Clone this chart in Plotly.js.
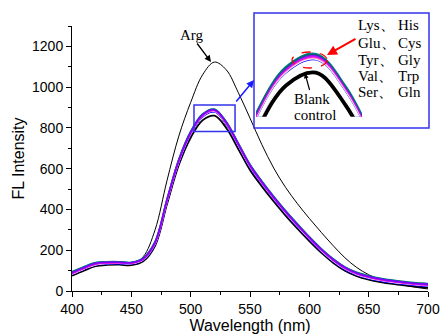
<!DOCTYPE html>
<html>
<head>
<meta charset="utf-8">
<script src="https://cdn.plot.ly/plotly-3.0.1.min.js"></script>
<style>html,body{margin:0;padding:0;background:#fff}#chart{width:442px;height:334px}</style>
</head>
<body>
<div id="chart"></div>
<script>
// Wavelength (nm)
var wavelength = [400,410,420,430,440,450,460,470,480,490,500,510,520,530,540,550,560,570,580,590,600,610,620,630,640,650,660,670,680,690,700];
// FL intensity per analyte
var lys   = [95,120,140,144,144,141,163,244,452,648,784,869,893,832,728,622,540,465,395,330,267,209,159,119,92,75,63,54,47,41,37];
var his   = [93,118,139,143,143,140,161,242,450,646,782,867,891,830,726,620,538,463,393,328,265,207,157,117,90,73,61,52,45,39,35];
var glu   = [90,115,136,141,141,139,159,239,446,641,778,864,889,827,723,617,535,460,390,325,263,205,155,115,88,71,59,50,43,37,33];
var cys   = [89,114,135,140,140,138,158,238,445,640,777,863,888,826,722,616,534,459,389,324,262,204,154,114,87,70,58,49,42,36,32];
var tyr   = [87,112,133,138,139,137,157,236,443,638,775,861,886,824,720,614,532,457,387,322,260,202,152,112,85,68,56,47,40,34,30];
var gly   = [86,111,132,137,138,136,156,235,442,637,774,860,885,823,719,613,531,456,386,321,259,201,151,111,84,67,55,46,39,33,29];
var val   = [84,109,130,136,137,135,155,233,440,635,772,859,884,822,718,612,530,455,385,320,258,200,150,110,83,66,54,45,38,32,28];
var trp   = [83,108,129,135,136,134,154,232,438,633,770,857,882,820,716,610,528,453,383,318,256,198,148,108,81,64,52,43,36,30,26];
var gln   = [82,107,128,134,135,133,153,230,436,631,768,855,880,818,714,608,526,451,381,316,254,196,146,106,79,62,50,41,34,28,24];
var ser   = [81,106,127,133,134,132,152,229,435,630,767,854,879,817,713,607,525,450,380,315,253,195,145,105,78,61,49,40,33,27,23];
var blank = [75,100,122,128,129,127,146,222,425,618,752,837,860,800,698,594,513,439,370,306,245,188,139,100,73,56,44,35,28,22,17];
var arg   = [80,105,126,132,133,131,168,300,540,760,925,1060,1123,1085,975,848,718,603,508,428,356,288,223,163,115,80,56,40,28,18,10];

// inset stacking order (top curve first)
var insetNames  = ['Lys','His','Glu','Cys','Tyr','Gly','Val','Trp','Gln','Ser','Blank control'];
var insetData   = [lys, his, glu, cys, tyr, gly, val, trp, gln, ser, blank];
var insetColors = ['#008080','#006b6b','#7f00ff','#8a2be2','#ff00ff','#e000e0','#ff8cc6','#ffffff','#0000ff','#ffffff','#000000'];
// main plot drawing order
var mainNames  = ['Blank control','Lys','His','Ser','Gln','Trp','Val','Gly','Tyr','Cys','Glu'];
var mainData   = [blank, lys, his, ser, gln, trp, val, gly, tyr, cys, glu];
var mainColors = ['#000000','#008080','#006b6b','#0000ff','#0000ff','#ffffff','#ff8cc6','#e000e0','#ff00ff','#8a2be2','#7f00ff'];

var traces = [];
traces.push({x: wavelength, y: arg, type:'scatter', mode:'lines', name:'Arg',
  line:{color:'#000000', width:1, shape:'spline'}, xaxis:'x', yaxis:'y', showlegend:false});
for (var i = 0; i < mainData.length; i++) {
  traces.push({x: wavelength, y: mainData[i], type:'scatter', mode:'lines', name: mainNames[i],
    line:{color: mainColors[i], width: i === 0 ? 1.8 : 1.4, shape:'spline'}, xaxis:'x', yaxis:'y', showlegend:false});
}
for (var j = 0; j < insetData.length; j++) {
  traces.push({x: wavelength, y: insetData[j], type:'scatter', mode:'lines', name: insetNames[j],
    line:{color: insetColors[j], width: 3.8, shape:'spline'}, xaxis:'x2', yaxis:'y2', showlegend:false});
}

function px(xp){ return (xp - 72) / 356; }
function py(yp){ return (291 - yp) / 265; }

var serif = {family:'Liberation Serif, Times New Roman, serif', size:15, color:'#000'};
var leftCol = ['Lys、','Glu、','Tyr、','Val、','Ser、'];
var rightCol = ['His','Cys','Gly','Trp','Gln'];
var rowY = [25, 43.3, 60, 76, 91.7];

var annotations = [];
for (var r = 0; r < rowY.length; r++) {
  annotations.push({xref:'paper', yref:'paper', x: px(356), y: py(rowY[r]), text: leftCol[r], showarrow:false, xanchor:'left', yanchor:'middle', font: serif});
  annotations.push({xref:'paper', yref:'paper', x: px(396), y: py(rowY[r]), text: rightCol[r], showarrow:false, xanchor:'left', yanchor:'middle', font: serif});
}
annotations.push({xref:'paper', yref:'paper', x: px(191.7), y: py(35), text:'Arg', showarrow:false, xanchor:'center', yanchor:'middle', font: serif});
annotations.push({xref:'paper', yref:'paper', x: px(211), y: py(62), text:'', showarrow:true, ax:-15, ay:-20, arrowhead:2, arrowsize:1, arrowwidth:1.3, arrowcolor:'#000'});
annotations.push({xref:'paper', yref:'paper', x: px(311.7), y: py(99), text:'Blank', showarrow:false, xanchor:'center', yanchor:'middle', font: serif});
annotations.push({xref:'paper', yref:'paper', x: px(315), y: py(115), text:'control', showarrow:false, xanchor:'center', yanchor:'middle', font: serif});
annotations.push({xref:'paper', yref:'paper', x: px(305), y: py(73.5), text:'', showarrow:true, ax:5, ay:18, arrowhead:2, arrowsize:0.8, arrowwidth:1.2, arrowcolor:'#000'});
annotations.push({xref:'paper', yref:'paper', x: px(327), y: py(55), text:'', showarrow:true, ax:30, ay:-17, arrowhead:2, arrowsize:1, arrowwidth:2, arrowcolor:'#ff0000'});
annotations.push({xref:'paper', yref:'paper', x: px(254), y: py(80), text:'', showarrow:true, ax:-19, ay:23, arrowhead:2, arrowsize:1, arrowwidth:1.5, arrowcolor:'#1a1aff'});

var shapes = [
  {type:'rect', xref:'x', yref:'y', x0:502.8, x1:537.4, y0:782, y1:913, line:{color:'#3333ee', width:1.5}, fillcolor:'rgba(0,0,0,0)'},
  {type:'rect', xref:'paper', yref:'paper', x0:px(254), x1:px(429), y0:py(128), y1:py(13), line:{color:'#3333ee', width:1.5}, fillcolor:'rgba(0,0,0,0)'},
  {type:'circle', xref:'paper', yref:'paper', x0:px(292), x1:px(327), y0:py(68), y1:py(52), line:{color:'#ff0000', width:1.3, dash:'dash'}, fillcolor:'rgba(0,0,0,0)'}
];

var tickFont = {family:'Liberation Sans, Arial, sans-serif', size:14, color:'#000'};
var titleFont = {family:'Liberation Sans, Arial, sans-serif', size:16, color:'#000'};

var layout = {
  width:442, height:334,
  margin:{l:72, r:14, t:26, b:43, pad:0},
  paper_bgcolor:'#fff', plot_bgcolor:'rgba(0,0,0,0)',
  showlegend:false,
  xaxis:{range:[400,700], tickvals:[400,450,500,550,600,650,700], ticks:'outside', ticklen:5, tickwidth:1, tickcolor:'#000',
    minor:{dtick:25, ticks:'outside', ticklen:3, tickcolor:'#000', showgrid:false},
    showline:true, linecolor:'#000', linewidth:1, showgrid:false, zeroline:false, tickfont:tickFont,
    title:{text:'Wavelength (nm)', font:titleFont, standoff:2}, automargin:false},
  yaxis:{range:[0,1300], tickvals:[0,200,400,600,800,1000,1200], ticks:'outside', ticklen:5, tickwidth:1, tickcolor:'#000',
    minor:{dtick:100, ticks:'outside', ticklen:3, tickcolor:'#000', showgrid:false},
    showline:true, linecolor:'#000', linewidth:1, showgrid:false, zeroline:false, tickfont:tickFont,
    title:{text:'FL Intensity', font:titleFont, standoff:3}, automargin:false},
  xaxis2:{domain:[px(256), px(362)], range:[499.8,535.5], anchor:'y2', visible:false, showgrid:false, zeroline:false},
  yaxis2:{domain:[py(116.7), py(45)], range:[779,911], anchor:'x2', visible:false, showgrid:false, zeroline:false},
  annotations: annotations,
  shapes: shapes
};

Plotly.newPlot('chart', traces, layout, {staticPlot:true, displayModeBar:false});
</script>
</body>
</html>
